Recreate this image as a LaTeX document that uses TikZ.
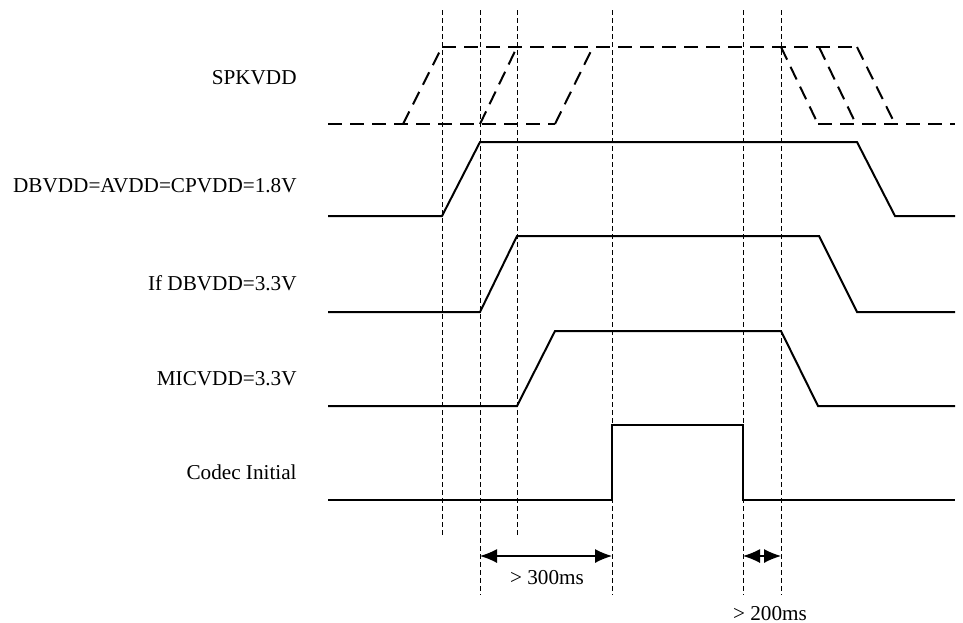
\documentclass[tikz,border=0pt]{standalone}
\usepackage{fontspec}
\setmainfont{Liberation Serif}
\usetikzlibrary{arrows.meta}
\begin{document}
\begin{tikzpicture}[x=0.5pt,y=-0.5pt,
  sig/.style={line width=1pt, line join=miter},
  spk/.style={line width=1pt, dash pattern=on 7pt off 4pt},
  guide/.style={line width=0.5pt, dash pattern=on 2.5pt off 1.5pt},
  lbl/.style={anchor=base east, inner sep=0pt, font=\fontsize{10.6}{12}\selectfont},
  dimlbl/.style={anchor=base, inner sep=0pt, font=\fontsize{10.6}{12}\selectfont},
  dimarrow/.style={line width=0.6pt, {Latex[length=8.5pt,width=7pt]}-{Latex[length=8.5pt,width=7pt]}},
  ]
\useasboundingbox (0,0) rectangle (963,622);

% guide lines
\foreach \n/\x/\yb in {1/442/538, 2/480/595, 3/517/538, 4/612/595, 5/743/595, 6/781/595}{
  \coordinate (gt\n) at (\x,10);
  \coordinate (gb\n) at (\x,\yb);
  \draw[guide] (gt\n) -- (gb\n);
}

% labels
\node[lbl] (lspk) at (297,84) {SPKVDD};
\node[lbl] (ldb)  at (297,192) {DBVDD=AVDD=CPVDD=1.8V};
\node[lbl] (lif)  at (297,290) {If DBVDD=3.3V};
\node[lbl] (lmic) at (297,385) {MICVDD=3.3V};
\node[lbl] (lcod) at (297,479) {Codec Initial};

% SPKVDD (dashed)
\draw[spk] (328,124) -- (555,124);
\draw[spk] (442,47) -- (857,47);
\draw[spk] (818,124) -- (955,124);
\draw[spk] (403,124) -- (442,47);
\draw[spk] (480,124) -- (517,47);
\draw[spk] (555,124) -- (593,47);
\draw[spk] (781,47) -- (818,124);
\draw[spk] (819,47) -- (856,124);
\draw[spk] (857,47) -- (895,124);

% DBVDD=1.8V
\draw[sig] (328,216) -- (442,216) -- (480,142) -- (857,142) -- (895,216) -- (955,216);
% If DBVDD=3.3V
\draw[sig] (328,312) -- (480,312) -- (517,236) -- (819,236) -- (857,312) -- (955,312);
% MICVDD
\draw[sig] (328,406) -- (517,406) -- (555,331) -- (781,331) -- (818,406) -- (955,406);
% Codec Initial
\draw[sig] (328,500) -- (612,500) -- (612,425) -- (743,425) -- (743,500) -- (955,500);

% timing arrows
\coordinate (a1) at (480,556);
\coordinate (a2) at (612,556);
\coordinate (b1) at (743,556);
\coordinate (b2) at (781,556);
\draw[dimarrow] (a1) -- (a2);
\draw[dimarrow] (b1) -- (b2);
\node[dimlbl] (t300) at (547,584) {> 300ms};
\node[dimlbl] (t200) at (770,620) {> 200ms};
\end{tikzpicture}
\end{document}
